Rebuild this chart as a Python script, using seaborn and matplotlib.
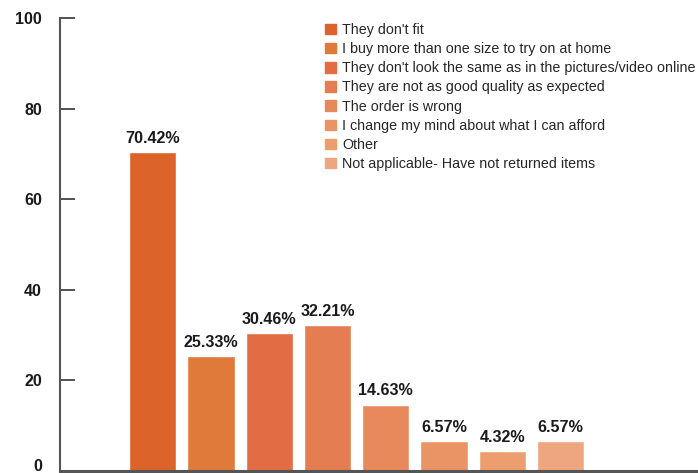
import matplotlib
matplotlib.use("Agg")
import matplotlib.pyplot as plt
import matplotlib.transforms as mtransforms
import seaborn as sns
import pandas as pd

reasons = [
    "They don't fit",
    "I buy more than one size to try on at home",
    "They don't look the same as in the pictures/video online",
    "They are not as good quality as expected",
    "The order is wrong",
    "I change my mind about what I can afford",
    "Other",
    "Not applicable- Have not returned items",
]
shares = [70.42, 25.33, 30.46, 32.21, 14.63, 6.57, 4.32, 6.57]
bar_colors = ["#DC6329", "#E07A3A", "#E26D44", "#E47D51",
              "#E8895C", "#EA9466", "#EC9E6F", "#EEA67F"]
y_ticks = [0, 20, 40, 60, 80, 100]

sns.set_style("white")
plt.rcParams["font.family"] = ["Liberation Sans", "DejaVu Sans"]

df = pd.DataFrame({"reason": reasons, "share": shares})

fig = plt.figure(figsize=(6.98, 4.73), dpi=100)
ax = fig.add_axes([60 / 698, 2 / 473, 638 / 698, 453 / 473])

sns.barplot(data=df, x="reason", y="share", hue="reason", order=reasons,
            hue_order=reasons, palette=bar_colors, dodge=False, width=0.81,
            saturation=1, legend=False, ax=ax)

for i, v in enumerate(shares):
    ax.annotate(f"{v:.2f}%", (i, v), xytext=(0, 4.5), textcoords="offset points",
                ha="center", va="bottom", fontsize=11.6, fontweight="bold",
                color="#1a1a1a")

ax.set_xlim(-1.59, 9.36)
ax.set_ylim(0, 100)
ax.set_yticks(y_ticks)
ax.set_yticklabels([str(t) for t in y_ticks], fontsize=11.5, fontweight="bold",
                   color="#1a1a1a")
ax.set_xticks([])
ax.set_xlabel("")
ax.set_ylabel("")
ax.tick_params(axis="y", direction="in", length=11, width=1.2, color="#333333",
               pad=13, left=True)

# keep the baseline label inside the canvas
zero_label = ax.get_yticklabels()[0]
zero_label.set_transform(zero_label.get_transform() +
                         mtransforms.ScaledTranslation(0, 4 / 72, fig.dpi_scale_trans))

for side in ["top", "right"]:
    ax.spines[side].set_visible(False)
ax.spines["left"].set_color("#555555")
ax.spines["left"].set_linewidth(1.5)
ax.spines["bottom"].set_color("#555555")
ax.spines["bottom"].set_linewidth(2.2)

handles = [plt.Rectangle((0, 0), 1, 1, color=c) for c in bar_colors]
fig.legend(handles, reasons, loc="upper left",
           bbox_to_anchor=(315 / 698, 1 - 13 / 473), frameon=False,
           fontsize=10.3, handlelength=0.75, handleheight=0.75,
           handletextpad=0.45, labelspacing=0.36, borderpad=0.2)

fig.savefig("out.png", dpi=100)
